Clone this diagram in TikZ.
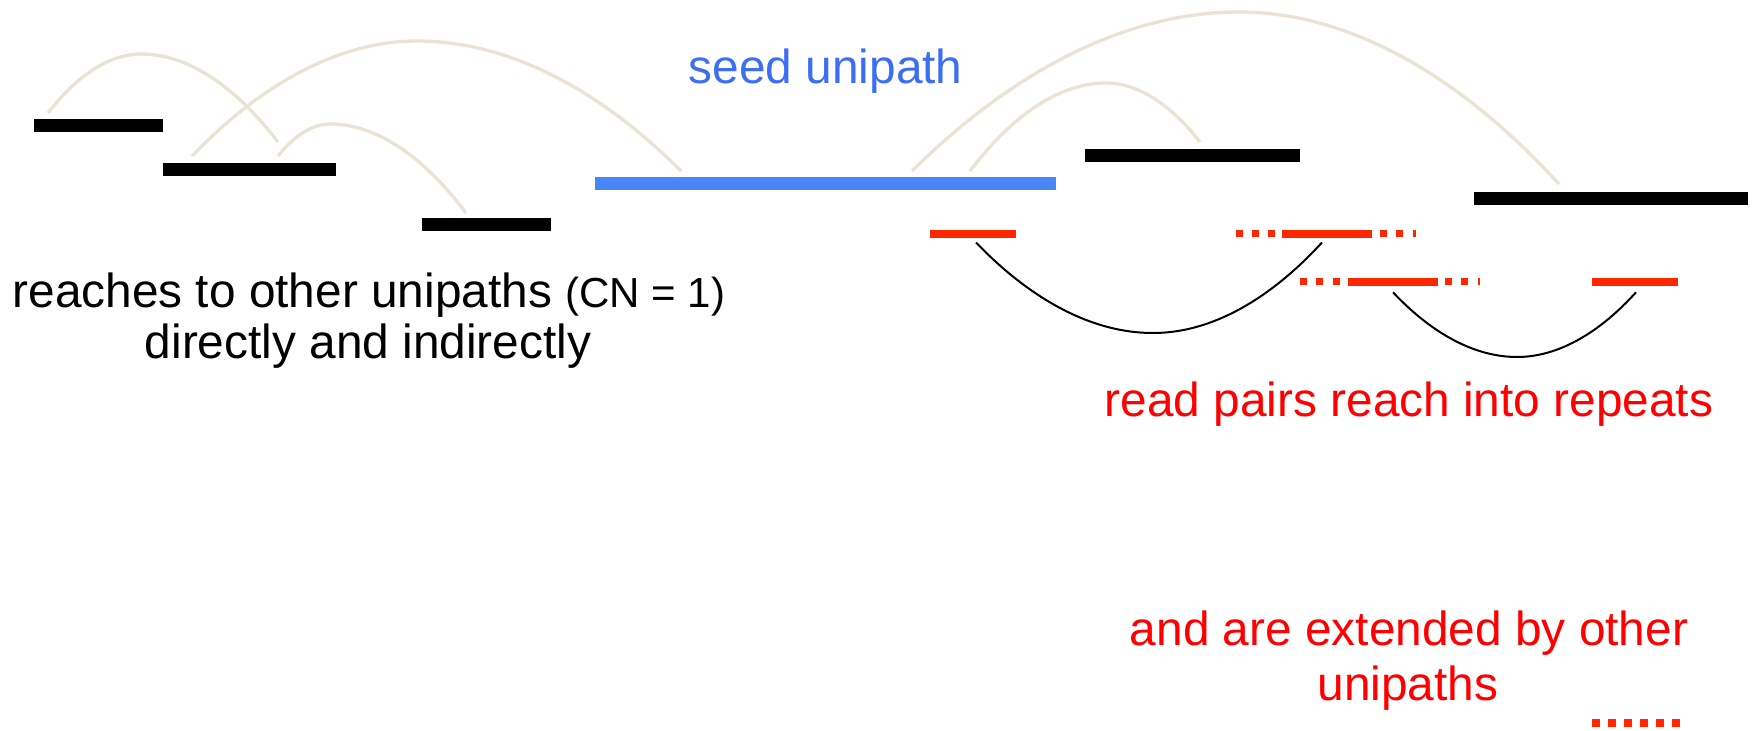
\documentclass[tikz,border=0pt]{standalone}
\usepackage{fontspec}
\setmainfont{Liberation Sans}
\definecolor{beige}{RGB}{234,226,210}
\definecolor{seedblue}{RGB}{72,133,247}
\definecolor{seedtext}{RGB}{60,110,245}
\definecolor{readred}{RGB}{255,38,0}
\tikzset{
  unibar/.style={rectangle, inner sep=0pt, outer sep=0pt, minimum height=13pt, fill=black},
  seedbar/.style={unibar, fill=seedblue},
  readbar/.style={rectangle, inner sep=0pt, outer sep=0pt, minimum height=7.6pt, fill=readred},
  readdots/.style={draw=readred, line width=7.4pt, dash pattern=on 7pt off 9.3pt},
  arclink/.style={draw=beige, line width=3.3pt},
  pairlink/.style={draw=black, line width=2pt},
  lbl/.style={anchor=base, inner sep=0pt, font=\fontsize{47.8}{55}\selectfont},
}
\begin{document}
\begin{tikzpicture}[x=1pt, y=-1pt]
\useasboundingbox (0,0) rectangle (1754,731);

% unipath bars
\node[unibar, minimum width=129.5pt] (A) at (98.25,125) {};
\node[unibar, minimum width=172.7pt] (B) at (249.35,169.2) {};
\node[unibar, minimum width=129.4pt] (C) at (486.6,224.2) {};
\node[seedbar, minimum width=460.8pt] (seed) at (825.4,183.3) {};
\node[unibar, minimum width=215pt] (D) at (1192.7,155) {};
\node[unibar, minimum width=273.2pt] (E) at (1611,198) {};

% reads
\node[readbar, minimum width=86pt] (r1) at (973,234) {};
\node[readbar, minimum width=90pt] (r2) at (1326.7,233.7) {};
\node[readbar, minimum width=90.6pt] (r3) at (1393,281.7) {};
\node[readbar, minimum width=86pt] (r4) at (1635.3,282) {};
\draw[readdots] (1235.7,233.7) -- (r2.west);
\draw[readdots] (1380,233.7) -- (1415.7,233.7);
\draw[readdots] (1300,281.7) -- (r3.west);
\draw[readdots] (1445,281.7) -- (1480,281.7);
\draw[readdots, line width=8pt, dash pattern=on 8pt off 8pt] (1592,723.3) -- (1680,723.3);

% beige links between unipaths
\coordinate (a1s) at (48,113);  \coordinate (a1p) at (141,54);  \coordinate (a1e) at (278,142);
\coordinate (a2s) at (192,156); \coordinate (a2p) at (417,41);  \coordinate (a2e) at (681,171);
\coordinate (a3s) at (278,156); \coordinate (a3p) at (330,124); \coordinate (a3e) at (466,213);
\coordinate (a4s) at (912,171); \coordinate (a4p) at (1239,12); \coordinate (a4e) at (1559,184);
\coordinate (a5s) at (970,171); \coordinate (a5p) at (1106,83); \coordinate (a5e) at (1200,142);
\draw[arclink] (a1s) parabola bend (a1p) (a1e);
\draw[arclink] (a2s) parabola bend (a2p) (a2e);
\draw[arclink] (a3s) parabola bend (a3p) (a3e);
\draw[arclink] (a4s) parabola bend (a4p) (a4e);
\draw[arclink] (a5s) parabola bend (a5p) (a5e);

% read pair links
\coordinate (p1s) at (976,242.5);  \coordinate (p1b) at (1153,333); \coordinate (p1e) at (1322,242.5);
\coordinate (p2s) at (1393,292.3); \coordinate (p2b) at (1517,357); \coordinate (p2e) at (1636,292.3);
\draw[pairlink] (p1s) parabola bend (p1b) (p1e);
\draw[pairlink] (p2s) parabola bend (p2b) (p2e);

% labels
\node[lbl, text=seedtext] (seedlbl) at (825.7,83.3) {seed unipath};
\node[lbl] (reach1) at (369,307.5) {reaches to other unipaths {\fontsize{42}{48}\selectfont(CN = 1)}};
\node[lbl] (reach2) at (368,358) {directly and indirectly};
\node[lbl, text=red] (rp) at (1409,416) {read pairs reach into repeats};
\node[lbl, text=red] (ext1) at (1409,645) {and are extended by other};
\node[lbl, text=red] (ext2) at (1408,700.5) {unipaths};
\end{tikzpicture}
\end{document}
